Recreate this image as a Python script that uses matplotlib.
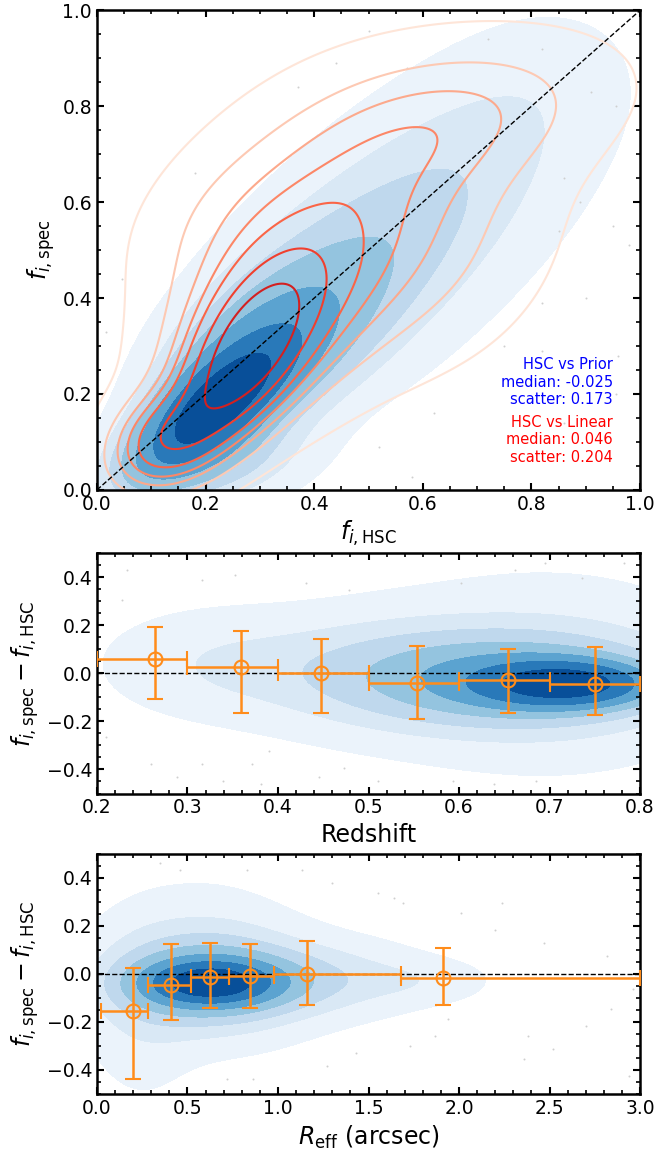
import numpy as np
import matplotlib
matplotlib.use('Agg')
import matplotlib.pyplot as plt
from matplotlib.ticker import MultipleLocator

# ---- density model components ----
# top panel, prior vs HSC (filled blues): x, y, major sd, minor sd, angle(deg), weight
prior_x = [0.21, 0.30, 0.47, 0.68, 0.84, 0.20]
prior_y = [0.17, 0.28, 0.45, 0.67, 0.85, 0.05]
prior_sa = [0.12, 0.15, 0.19, 0.18, 0.14, 0.12]
prior_sb = [0.05, 0.09, 0.13, 0.14, 0.12, 0.06]
prior_ang = [45, 45, 45, 45, 45, 10]
prior_w = [1.0, 1.0, 1.0, 0.55, 0.15, 0.25]

# top panel, linear vs HSC (red lines)
lin_x = [0.27, 0.32, 0.52, 0.66, 0.12, 0.20]
lin_y = [0.27, 0.38, 0.55, 0.78, 0.10, 0.58]
lin_sa = [0.13, 0.18, 0.20, 0.20, 0.08, 0.13]
lin_sb = [0.06, 0.11, 0.18, 0.10, 0.06, 0.08]
lin_ang = [62, 60, 45, 15, 45, 45]
lin_w = [0.7, 1.0, 1.1, 0.5, 0.25, 0.08]

# middle panel, redshift vs residual
z_x = [0.72, 0.67, 0.52, 0.33, 0.70]
z_y = [-0.045, -0.03, 0.00, 0.04, 0.00]
z_sx = [0.06, 0.10, 0.10, 0.08, 0.12]
z_sy = [0.06, 0.12, 0.15, 0.14, 0.25]
z_w = [1.0, 1.5, 0.9, 0.3, 1.0]

# bottom panel, Reff vs residual
r_x = [0.63, 0.62, 1.25, 0.25, 1.80, 0.60]
r_y = [-0.04, -0.03, -0.02, -0.15, -0.03, 0.10]
r_sx = [0.28, 0.35, 0.35, 0.20, 0.25, 0.30]
r_sy = [0.07, 0.14, 0.10, 0.24, 0.06, 0.20]
r_w = [1.0, 1.5, 0.45, 0.3, 0.08, 0.3]

# ---- binned medians ----
z_mid = [0.264, 0.359, 0.448, 0.554, 0.654, 0.750]
z_lo = [0.2, 0.3, 0.4, 0.5, 0.6, 0.7]
z_hi = [0.3, 0.4, 0.5, 0.6, 0.7, 0.8]
z_med = [0.061, 0.028, 0.003, -0.039, -0.028, -0.046]
z_up = [0.194, 0.178, 0.141, 0.114, 0.102, 0.110]
z_dn = [-0.107, -0.163, -0.167, -0.188, -0.164, -0.174]

re_mid = [0.20, 0.41, 0.626, 0.843, 1.16, 1.91]
re_lo = [0.02, 0.28, 0.52, 0.73, 0.98, 1.68]
re_hi = [0.28, 0.52, 0.73, 0.98, 1.68, 3.0]
re_med = [-0.156, -0.046, -0.014, -0.010, -0.001, -0.019]
re_up = [0.025, 0.122, 0.130, 0.126, 0.137, 0.108]
re_dn = [-0.437, -0.191, -0.144, -0.144, -0.129, -0.131]

# ---- stray outlier points ----
top_px = [0.50, 0.72, 0.57, 0.44, 0.82, 0.91, 0.955, 0.37, 0.86, 0.89, 0.95, 0.98,
          0.82, 0.82, 0.955, 0.86, 0.62, 0.52, 0.58, 0.016, 0.047, 0.18, 0.75, 0.85, 0.90, 0.96]
top_py = [0.956, 0.94, 0.88, 0.89, 0.92, 0.83, 0.80, 0.84, 0.65, 0.60, 0.55, 0.51,
          0.39, 0.29, 0.20, 0.14, 0.16, 0.09, 0.026, 0.33, 0.44, 0.66, 0.30, 0.54, 0.40, 0.28]
mid_px = [0.233, 0.316, 0.353, 0.431, 0.478, 0.602, 0.662, 0.695, 0.782, 0.736, 0.39, 0.371, 0.381,
          0.445, 0.473, 0.51, 0.593, 0.639, 0.288, 0.26, 0.685, 0.228, 0.21, 0.316, 0.339]
mid_py = [0.431, 0.389, 0.41, 0.375, 0.347, 0.375, 0.431, 0.459, 0.459, 0.396, -0.322, -0.378, -0.461,
          -0.433, -0.392, -0.447, -0.447, -0.461, -0.433, -0.378, -0.447, 0.305, -0.266, -0.378, -0.447]
bot_px = [0.35, 0.46, 0.83, 1.13, 1.30, 1.64, 1.69, 2.01, 2.20, 2.47, 2.82, 2.96, 2.84, 2.70,
          2.38, 1.94, 1.87, 1.73, 1.43, 1.27, 0.86, 0.72, 2.36, 2.52, 2.94, 1.55, 2.24]
bot_py = [0.46, 0.433, 0.433, 0.433, 0.378, 0.316, 0.295, 0.253, 0.184, 0.129, 0.073, -0.065, -0.148, -0.217,
          -0.259, -0.19, -0.259, -0.30, -0.328, -0.383, -0.439, -0.439, -0.356, -0.314, -0.425, 0.336, 0.295]

ORANGE = '#ff8c1a'
DOT = '#cfcfcf'
blue_cols = plt.cm.Blues(np.array([0.06, 0.15, 0.27, 0.40, 0.55, 0.72, 0.88]))
red_cols = plt.cm.Reds(np.linspace(0.1, 0.72, 7))
isoprop = np.linspace(0.05, 1, 8)


def mixture(xx, yy, mx, my, sa, sb, ang, w):
    dens = np.zeros_like(xx)
    for cx, cy, a, b, t, wt in zip(mx, my, sa, sb, ang, w):
        t = np.radians(t)
        dx, dy = xx - cx, yy - cy
        u = dx * np.cos(t) + dy * np.sin(t)
        v = -dx * np.sin(t) + dy * np.cos(t)
        dens += wt * np.exp(-0.5 * (u**2 / a**2 + v**2 / b**2)) / (a * b)
    return dens


def iso_levels(dens):
    vals = np.sort(dens.ravel())[::-1]
    cum = np.cumsum(vals) / vals.sum()
    idx = np.searchsorted(cum, 1 - isoprop)
    return np.take(vals, idx, mode='clip')


def style(ax, xmaj, xmin, ymaj, ymin):
    ax.xaxis.set_major_locator(MultipleLocator(xmaj))
    ax.xaxis.set_minor_locator(MultipleLocator(xmin))
    ax.yaxis.set_major_locator(MultipleLocator(ymaj))
    ax.yaxis.set_minor_locator(MultipleLocator(ymin))
    ax.tick_params(which='both', direction='in', top=True, right=True, labelsize=13.5)
    ax.tick_params(which='major', length=5, width=1.5)
    ax.tick_params(which='minor', length=3, width=1.2)
    for s in ax.spines.values():
        s.set_linewidth(1.8)


def binned(ax, mid, lo, hi, med, up, dn):
    mid = np.array(mid); med = np.array(med)
    xerr = [mid - np.array(lo), np.array(hi) - mid]
    yerr = [med - np.array(dn), np.array(up) - med]
    ax.errorbar(mid, med, xerr=xerr, yerr=yerr, fmt='o', ms=10, mfc='none', mec=ORANGE,
                mew=1.5, ecolor=ORANGE, elinewidth=1.8, capsize=6, capthick=1.5, zorder=5)


fig = plt.figure(figsize=(6.57, 11.5), dpi=100)
ax1 = fig.add_axes([0.1476, 0.574, 0.8266, 0.417])
ax2 = fig.add_axes([0.1476, 0.310, 0.8266, 0.209])
ax3 = fig.add_axes([0.1476, 0.0487, 0.8266, 0.209])

# top panel
gx, gy = np.meshgrid(np.linspace(-0.05, 1.05, 300), np.linspace(-0.05, 1.05, 300))
d_prior = mixture(gx, gy, prior_x, prior_y, prior_sa, prior_sb, prior_ang, prior_w)
d_lin = mixture(gx, gy, lin_x, lin_y, lin_sa, lin_sb, lin_ang, lin_w)
ax1.contourf(gx, gy, d_prior, levels=iso_levels(d_prior), colors=blue_cols)
ax1.contour(gx, gy, d_lin, levels=iso_levels(d_lin)[:-1], colors=red_cols, linewidths=1.5)
ax1.scatter(top_px, top_py, s=2, color=DOT, lw=0)
ax1.plot([0, 1], [0, 1], 'k--', lw=1)
ax1.set_xlim(0, 1)
ax1.set_ylim(0, 1)
ax1.set_xlabel(r'$f_{i,\rm HSC}$', fontsize=17)
ax1.set_ylabel(r'$f_{i,\rm spec}$', fontsize=17)
style(ax1, 0.2, 0.05, 0.2, 0.05)
ax1.text(0.95, 0.179, 'HSC vs Prior\nmedian: -0.025\nscatter: 0.173', color='blue',
         ha='right', va='baseline', multialignment='right', fontsize=10.5, transform=ax1.transAxes)
ax1.text(0.95, 0.059, 'HSC vs Linear\nmedian: 0.046\nscatter: 0.204', color='red',
         ha='right', va='baseline', multialignment='right', fontsize=10.5, transform=ax1.transAxes)

# middle panel
gx, gy = np.meshgrid(np.linspace(0.05, 0.95, 300), np.linspace(-0.8, 0.8, 300))
d_z = mixture(gx, gy, z_x, z_y, z_sx, z_sy, [0] * len(z_x), z_w)
ax2.contourf(gx, gy, d_z, levels=iso_levels(d_z), colors=blue_cols)
ax2.scatter(mid_px, mid_py, s=2, color=DOT, lw=0)
ax2.axhline(0, color='k', ls='--', lw=1)
binned(ax2, z_mid, z_lo, z_hi, z_med, z_up, z_dn)
ax2.set_xlim(0.2, 0.8)
ax2.set_ylim(-0.5, 0.5)
ax2.set_xlabel('Redshift', fontsize=17)
ax2.set_ylabel(r'$f_{i,\rm spec} - f_{i,\rm HSC}$', fontsize=17)
style(ax2, 0.1, 0.02, 0.2, 0.05)

# bottom panel
gx, gy = np.meshgrid(np.linspace(-0.5, 3.2, 400), np.linspace(-0.8, 0.8, 300))
d_r = mixture(gx, gy, r_x, r_y, r_sx, r_sy, [0] * len(r_x), r_w)
ax3.contourf(gx, gy, d_r, levels=iso_levels(d_r), colors=blue_cols)
ax3.scatter(bot_px, bot_py, s=2, color=DOT, lw=0)
ax3.axhline(0, color='k', ls='--', lw=1)
binned(ax3, re_mid, re_lo, re_hi, re_med, re_up, re_dn)
ax3.set_xlim(0, 3)
ax3.set_ylim(-0.5, 0.5)
ax3.set_xlabel(r'$R_{\rm eff}$ (arcsec)', fontsize=17)
ax3.set_ylabel(r'$f_{i,\rm spec} - f_{i,\rm HSC}$', fontsize=17)
style(ax3, 0.5, 0.1, 0.2, 0.05)

fig.savefig('out.png', dpi=100)
